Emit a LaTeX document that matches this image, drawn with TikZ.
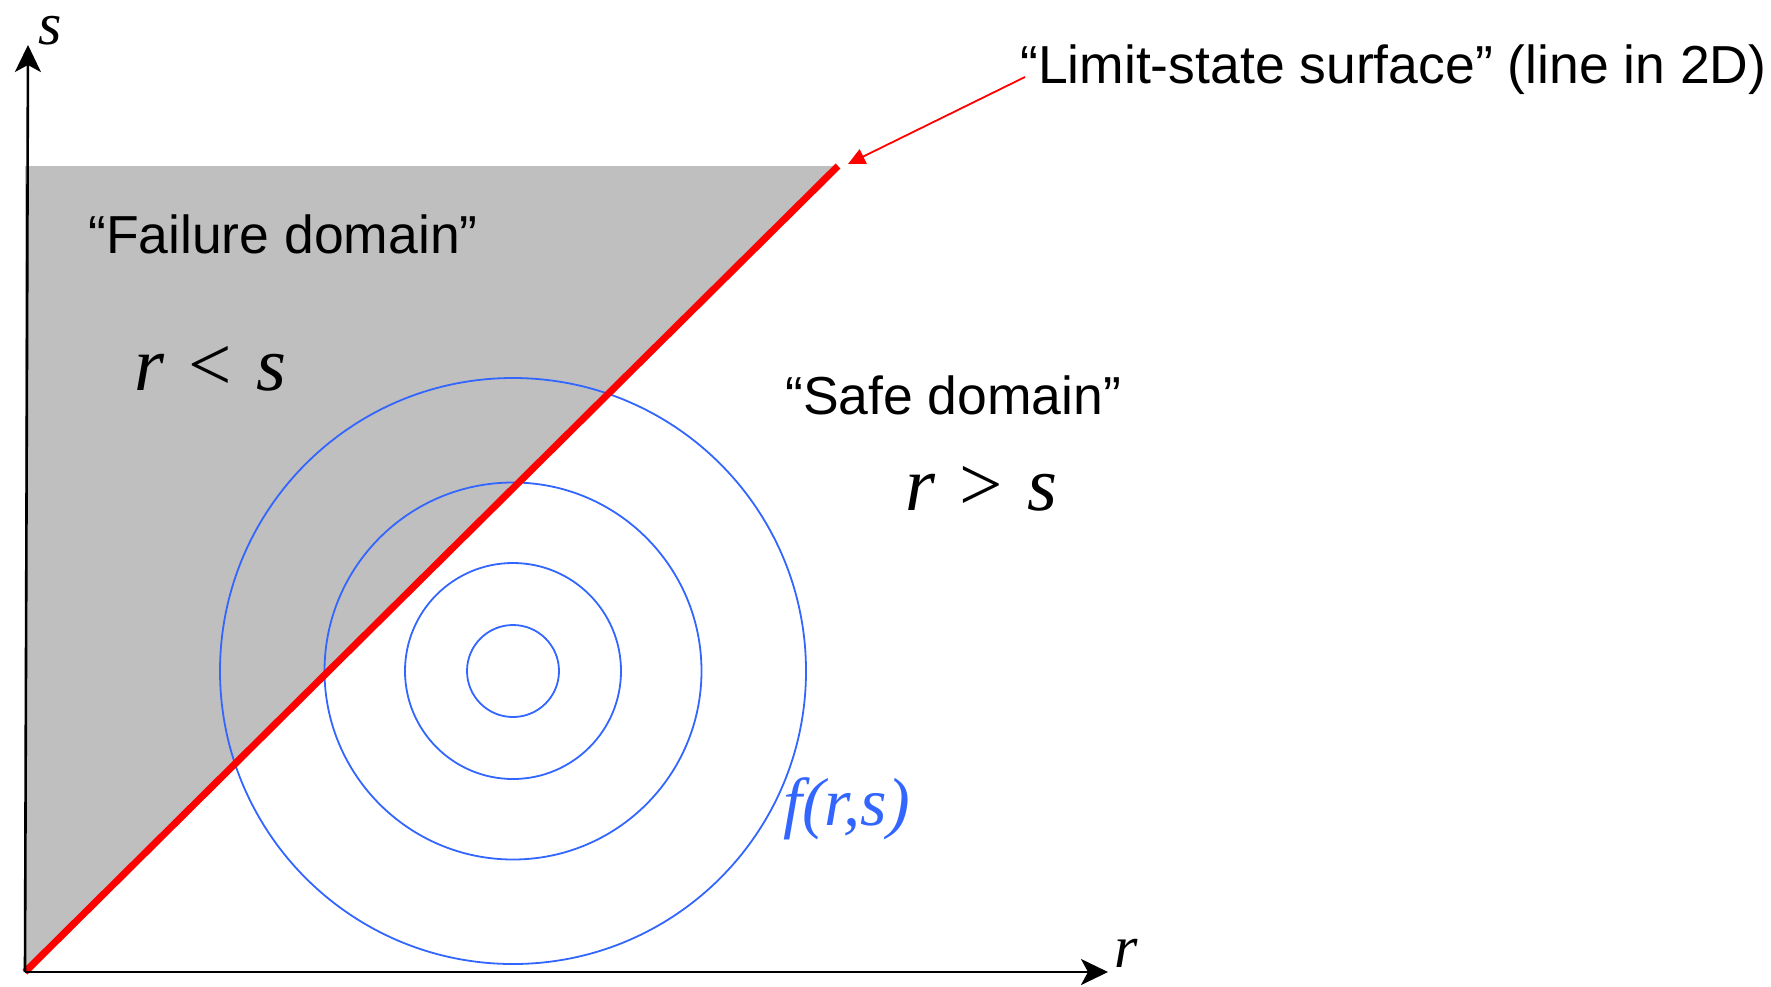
\documentclass[tikz,border=0pt]{standalone}
\usepackage{fontspec}
\setmainfont{Liberation Sans}
\newfontfamily\tms{Liberation Serif}
\usetikzlibrary{arrows.meta}
\definecolor{grayfill}{RGB}{191,191,191}
\definecolor{cblue}{RGB}{51,102,255}
\definecolor{lred}{RGB}{255,0,0}
\tikzset{
  axis/.style={line width=2.6pt, -{Stealth[length=27pt,width=26pt,inset=7pt]}},
  contour/.style={draw=cblue, line width=1.8pt},
  lbl/.style={anchor=base west, inner sep=0pt, font=\fontsize{53.5}{60}\selectfont},
  mth/.style={anchor=base west, inner sep=0pt, font=\tms\fontsize{77}{80}\selectfont},
  axlbl/.style={anchor=base west, inner sep=0pt, font=\tms\itshape\fontsize{60}{66}\selectfont},
}
\begin{document}
\begin{tikzpicture}[x=1pt,y=-1pt]
\useasboundingbox (0,0) rectangle (1771,986);
\coordinate (O) at (25,972);
\coordinate (ytop) at (28,45);
\coordinate (xend) at (1108,972);
\coordinate (L) at (838,166);
\coordinate (Lc) at (25,166);
\coordinate (A) at (1025,77);
\coordinate (Ahead) at (848,164);
\coordinate (C) at (513,671);
% failure domain
\fill[grayfill] (O) -- (Lc) -- (L) -- cycle;
% contours
\draw[contour] (C) circle[radius=293];
\draw[contour] (C) circle[radius=188.5];
\draw[contour] (C) circle[radius=108];
\draw[contour] (C) circle[radius=46];
% limit-state line
\draw[lred, line width=7pt] (O) -- (L);
% axes
\draw[axis] (O) -- (ytop);
\draw[axis] (O) -- (xend);
% pointer
\draw[lred, line width=1.8pt, -{Triangle[length=17pt,width=16pt]}] (A) -- (Ahead);
% labels
\node[axlbl] (slbl) at (38,44) {s};
\node[axlbl] (rlbl) at (1114,967) {r};
\node[lbl] (lim) at (1020,83) {“Limit-state surface” (line in 2D)};
\node[lbl] (fail) at (88,253) {“Failure domain”};
\node[lbl] (safe) at (785,414) {“Safe domain”};
\node[mth] (rls) at (134,390) {\itshape r\upshape\hspace{0.32em}<\hspace{0.32em}\itshape s};
\node[mth] (rgs) at (905,510) {\itshape r\upshape\hspace{0.32em}>\hspace{0.32em}\itshape s};
\node[anchor=base west, inner sep=0pt, text=cblue, font=\tms\itshape\fontsize{68}{72}\selectfont] (frs) at (783,825) {f(r,s)};
\end{tikzpicture}
\end{document}
